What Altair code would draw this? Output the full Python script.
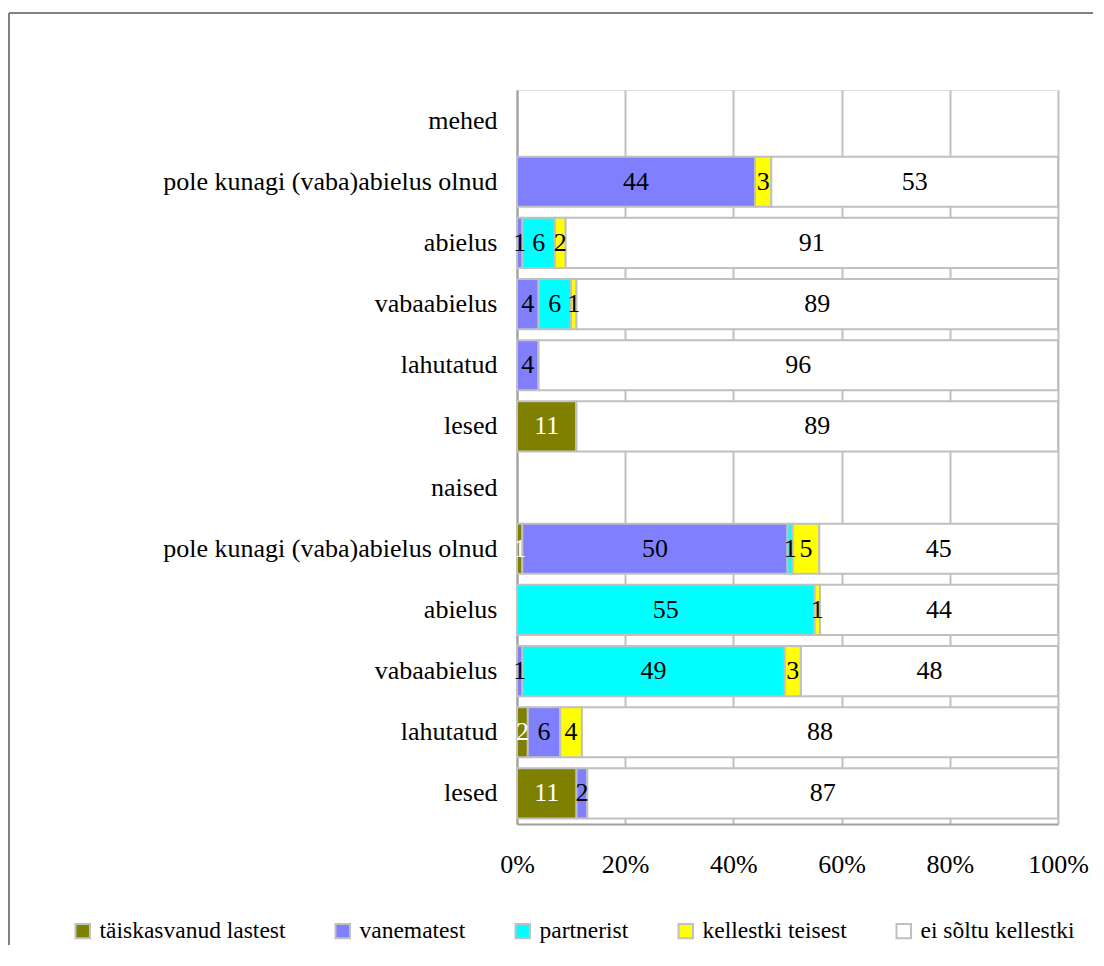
import altair as alt
import pandas as pd

rows = ["mehed", "pole kunagi (vaba)abielus olnud", "abielus", "vabaabielus", "lahutatud", "lesed",
        "naised", "pole kunagi (vaba)abielus olnud", "abielus", "vabaabielus", "lahutatud", "lesed"]
series = ["täiskasvanud lastest", "vanematest", "partnerist", "kellestki teisest", "ei sõltu kellestki"]
colors = ["#808000", "#8080ff", "#00ffff", "#ffff00", "#ffffff"]
text_colors = ["#ffffff", "#000000", "#000000", "#000000", "#000000"]

# values per row (None = header row without bar)
taiskasvanud = [None, 0, 0, 0, 0, 11, None, 1, 0, 0, 2, 11]
vanematest   = [None, 44, 1, 4, 4, 0, None, 50, 0, 1, 6, 2]
partnerist   = [None, 0, 6, 6, 0, 0, None, 1, 55, 49, 0, 0]
teisest      = [None, 3, 2, 1, 0, 0, None, 5, 1, 3, 4, 0]
ei_soltu     = [None, 53, 91, 89, 96, 89, None, 45, 44, 48, 88, 87]

vals = [taiskasvanud, vanematest, partnerist, teisest, ei_soltu]
recs = []
for i in range(len(rows)):
    for k, s in enumerate(series):
        v = vals[k][i]
        if v is None:
            continue
        recs.append({"idx": i, "series": s, "order": k, "value": v,
                     "label": str(v) if v > 0 else "", "tcol": text_colors[k]})
df = pd.DataFrame(recs)

FONT = "Liberation Serif, Times New Roman, serif"
label_expr = "[" + ",".join("'" + r + "'" for r in rows) + "][datum.value]"

ydom = list(range(len(rows)))
yscale = alt.Scale(domain=ydom, paddingInner=0.18, paddingOuter=0.09)

base = alt.Chart(df).transform_stack(
    stack="value", groupby=["idx"], as_=["v0", "v1"], offset="normalize",
    sort=[alt.SortField("order", order="ascending")]
)

bars = base.mark_bar(stroke="#c0c0c0", strokeWidth=2).encode(
    y=alt.Y("idx:O", scale=yscale, title=None,
            axis=alt.Axis(labelExpr=label_expr, labelFont=FONT, labelFontSize=26,
                          labelColor="#000000", ticks=False, labelPadding=20, labelLimit=600,
                          domainColor="#a0a0a0", domainWidth=2, grid=False)),
    x=alt.X("v0:Q", scale=alt.Scale(domain=[0, 1], nice=False), title=None,
            axis=alt.Axis(format=".0%", values=[0, 0.2, 0.4, 0.6, 0.8, 1.0],
                          labelFont=FONT, labelFontSize=26, labelColor="#000000",
                          labelFlush=False, labelOverlap=False,
                          ticks=False, labelPadding=27, domainColor="#a0a0a0",
                          domainWidth=2, grid=True, gridColor="#c0c0c0", gridWidth=2)),
    x2="v1:Q",
    color=alt.Color("series:N", scale=alt.Scale(domain=series, range=colors),
                    legend=alt.Legend(title=None, orient="none", direction="horizontal",
                                      legendX=-446, legendY=829, symbolType="square",
                                      symbolSize=210, symbolStrokeColor="#c0c0c0",
                                      symbolStrokeWidth=2, symbolOpacity=1,
                                      labelFont=FONT, labelFontSize=23.5, labelColor="#000000",
                                      columnPadding=45, labelOffset=5, labelLimit=400)),
    order=alt.Order("order:Q"),
)

texts = base.transform_calculate(mid="(datum.v0 + datum.v1) / 2").mark_text(
    font=FONT, fontSize=26, baseline="middle", align="center"
).encode(
    y=alt.Y("idx:O", scale=yscale),
    x=alt.X("mid:Q"),
    text="label:N",
    color=alt.Color("tcol:N", scale=None),
)

frame_df = pd.DataFrame({"a": [0]})
top_rule = alt.Chart(frame_df).mark_rule(color="#808080", strokeWidth=2).encode(
    x=alt.value(-508), x2=alt.value(576), y=alt.value(-77)
)
left_rule = alt.Chart(frame_df).mark_rule(color="#808080", strokeWidth=2).encode(
    x=alt.value(-508), y=alt.value(-77), y2=alt.value(855)
)

chart = alt.layer(bars, texts, top_rule, left_rule).properties(
    width=541, height=734, padding={"left": 0, "top": 4, "right": 0, "bottom": 0}
).configure_view(stroke="#c0c0c0", strokeWidth=2).configure(background="#ffffff")

chart.save("out.html", embed_options={"renderer": "svg", "actions": False})
